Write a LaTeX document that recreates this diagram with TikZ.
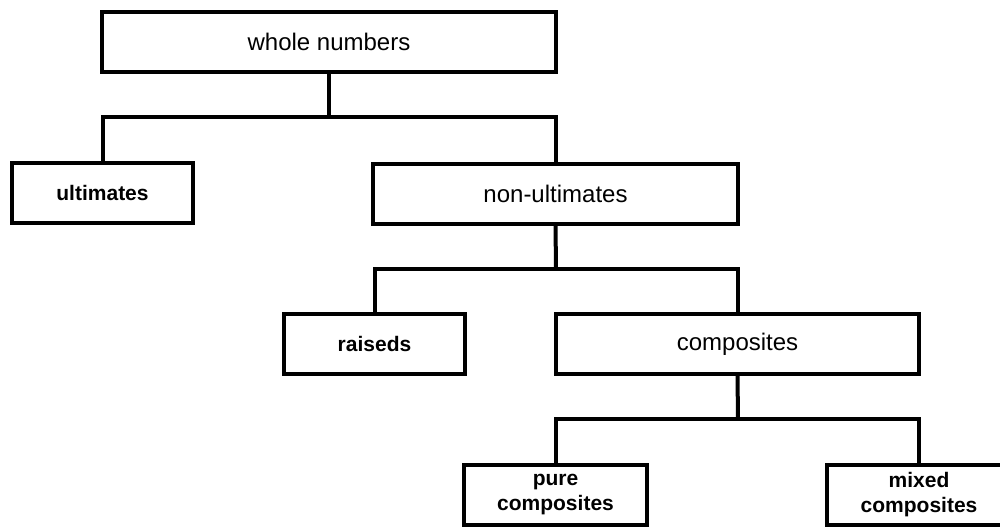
\documentclass[tikz,border=0pt]{standalone}
\usepackage{fontspec}
\setmainfont{Liberation Sans}
\begin{document}
\begin{tikzpicture}[x=1pt,y=-1pt,
  box/.style={draw=black, line width=4pt, fill=white, inner sep=0pt, minimum height=60pt, align=center},
  regular/.style={box, font=\fontsize{24}{29}\selectfont},
  leaf/.style={box, font=\fontsize{21}{25}\selectfont\bfseries},
  conn/.style={draw=black, line width=4pt, line join=miter}]
\clip (0,0) rectangle (1000,527);
\fill[white] (0,0) rectangle (1000,527);
% connectors first
\coordinate (b1) at (329,117);
\coordinate (b2) at (556,269);
\coordinate (b3) at (738,419);
\node[regular, minimum width=454pt] (wn) at (329,42) {whole numbers};
\node[leaf, minimum width=181pt] (ult) at (102.5,193) {ultimates};
\node[regular, minimum width=365pt] (nonult) at (555.5,193.5) {non-ultimates};
\node[leaf, minimum width=181pt] (rais) at (374.5,344) {raiseds};
\node[regular, minimum width=363pt] (comp) at (737.5,344) {composites};
\node[leaf, minimum width=183pt] (pure) at (555.5,495) {pure\\composites};
\node[leaf, minimum width=184pt] (mixed) at (919,495) {mixed\\composites};
\draw[conn] (wn.south) -- (b1);
\draw[conn] (ult.north) |- (b1) -| (nonult.north);
\draw[conn] (nonult.south) -- (b2);
\draw[conn] (rais.north) |- (b2) -| (comp.north);
\draw[conn] (comp.south) -- (b3);
\draw[conn] (pure.north) |- (b3) -| (mixed.north);
\end{tikzpicture}
\end{document}
